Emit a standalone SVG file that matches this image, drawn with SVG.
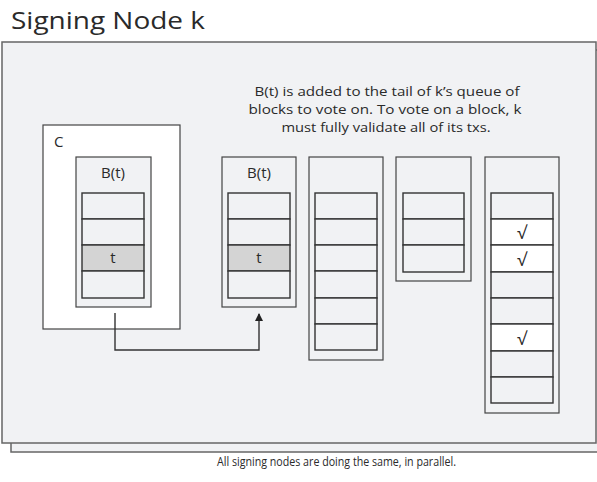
<svg xmlns="http://www.w3.org/2000/svg" width="597" height="482" viewBox="0 0 597 482">
<style>
text{font-family:"Open Sans","Noto Sans","DejaVu Sans",sans-serif;font-weight:400;fill:#2a2a2a}
.panel{fill:#f1f2f4;stroke:#666;stroke-width:1.5}
.box{fill:#f1f2f4;stroke:#444;stroke-width:1.2}
.cbox{fill:#ffffff;stroke:#444;stroke-width:1.2}
.cell{fill:#f1f2f4;stroke:#333;stroke-width:1.4}
.gray{fill:#d4d4d4;stroke:#333;stroke-width:1.4}
.white{fill:#ffffff;stroke:#333;stroke-width:1.4}
.lbl{font-size:15px;text-anchor:middle}
.chk{font-size:18px;text-anchor:middle}
.cap{font-size:12.5px;text-anchor:middle}
.conn{fill:none;stroke:#333;stroke-width:1.4}
</style>
<defs>
<marker id="arr" markerWidth="8" markerHeight="10" refX="7" refY="4" orient="auto" markerUnits="userSpaceOnUse">
<path d="M0,0 L8,4 L0,8 z" fill="#222"/>
</marker>
</defs>
<rect width="597" height="482" fill="#ffffff"/>
<text x="11" y="29" font-size="24" textLength="194" lengthAdjust="spacingAndGlyphs">Signing Node k</text>
<g id="panel">
<rect class="panel" x="11" y="50" width="590" height="402"/>
<rect class="panel" x="2" y="42" width="594" height="401"/>
</g>
<g id="caption">
<text class="cap" x="387" y="96" textLength="265" lengthAdjust="spacingAndGlyphs">B(t) is added to the tail of k’s queue of</text>
<text class="cap" x="385" y="114" textLength="273" lengthAdjust="spacingAndGlyphs">blocks to vote on. To vote on a block, k</text>
<text class="cap" x="386" y="132" textLength="209" lengthAdjust="spacingAndGlyphs">must fully validate all of its txs.</text>
</g>
<g id="node-C">
<rect class="cbox" x="43" y="125" width="137" height="204"/>
<text x="54" y="147" font-size="15">C</text>
<rect class="box" x="76" y="157" width="75" height="150"/>
<text class="lbl" x="113" y="178">B(t)</text>
<rect class="cell" x="82" y="193" width="62" height="26"/>
<rect class="cell" x="82" y="219" width="62" height="26"/>
<rect class="gray" x="82" y="245" width="62" height="26"/>
<rect class="cell" x="82" y="271" width="62" height="27"/>
<text class="lbl" x="113" y="263">t</text>
</g>
<g id="node-Bt">
<rect class="box" x="222" y="157" width="74" height="150"/>
<text class="lbl" x="259" y="178">B(t)</text>
<rect class="cell" x="228" y="193" width="62" height="26"/>
<rect class="cell" x="228" y="219" width="62" height="26"/>
<rect class="gray" x="228" y="245" width="62" height="26"/>
<rect class="cell" x="228" y="271" width="62" height="27"/>
<text class="lbl" x="259" y="263">t</text>
</g>
<g id="queue-1">
<rect class="box" x="309" y="157" width="74" height="203"/>
<rect class="cell" x="315" y="193" width="62" height="26"/>
<rect class="cell" x="315" y="219" width="62" height="26"/>
<rect class="cell" x="315" y="245" width="62" height="26"/>
<rect class="cell" x="315" y="271" width="62" height="27"/>
<rect class="cell" x="315" y="298" width="62" height="26"/>
<rect class="cell" x="315" y="324" width="62" height="26"/>
</g>
<g id="queue-2">
<rect class="box" x="396" y="157" width="75" height="124"/>
<rect class="cell" x="403" y="193" width="61" height="26"/>
<rect class="cell" x="403" y="219" width="61" height="26"/>
<rect class="cell" x="403" y="245" width="61" height="27"/>
</g>
<g id="queue-3">
<rect class="box" x="485" y="157" width="74" height="256"/>
<rect class="cell" x="491" y="193" width="62" height="26"/>
<rect class="white" x="491" y="219" width="62" height="26"/>
<rect class="white" x="491" y="245" width="62" height="27"/>
<rect class="cell" x="491" y="272" width="62" height="26"/>
<rect class="cell" x="491" y="298" width="62" height="26"/>
<rect class="white" x="491" y="324" width="62" height="27"/>
<rect class="cell" x="491" y="351" width="62" height="26"/>
<rect class="cell" x="491" y="377" width="62" height="26"/>
<text class="chk" x="522" y="239">√</text>
<text class="chk" x="522" y="266">√</text>
<text class="chk" x="522" y="345">√</text>
</g>
<g id="connectors">
<path class="conn" d="M115,313 V350 H259 V314" marker-end="url(#arr)"/>
</g>
<text x="217" y="466" font-size="13" textLength="239" lengthAdjust="spacingAndGlyphs">All signing nodes are doing the same, in parallel.</text>
</svg>
